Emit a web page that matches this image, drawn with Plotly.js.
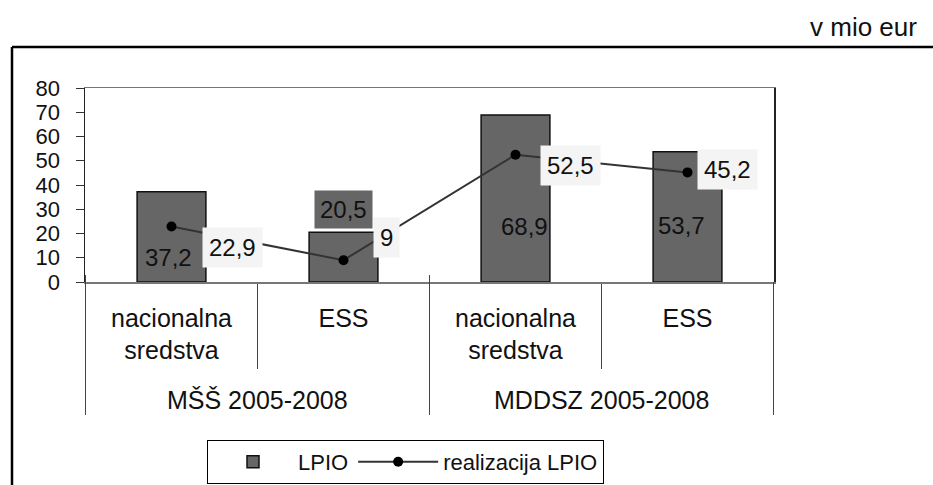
<!DOCTYPE html>
<html>
<head>
<meta charset="utf-8">
<script src="https://cdn.plot.ly/plotly-3.0.1.min.js"></script>
<style>html,body{margin:0;padding:0;background:#fff;}#chart{width:933px;height:485px;}</style>
</head>
<body>
<div id="chart"></div>
<script>
// ---- data ----
var groups = ["MŠŠ 2005-2008", "MŠŠ 2005-2008", "MDDSZ 2005-2008", "MDDSZ 2005-2008"];
var subcats = ["nacionalna<br>sredstva", "ESS", "nacionalna<br>sredstva", "ESS"];
var lpio = [37.2, 20.5, 68.9, 53.7];
var realizacija = [22.9, 9, 52.5, 45.2];
var lpioLabels = ["37,2", "20,5", "68,9", "53,7"];
var realLabels = ["22,9", "9", "52,5", "45,2"];
var yTicks = [0, 10, 20, 30, 40, 50, 60, 70, 80];
var unitLabel = "v mio eur";

// ---- label placement (styling only) ----
var barLabelStyle = [
  {base: true, dx: -3, dy: 25, bg: "rgba(0,0,0,0)"},
  {base: false, dx: 0, dy: 3, bg: "#666666"},
  {base: true, dx: 9, dy: 56, bg: "rgba(0,0,0,0)"},
  {base: true, dx: -6, dy: 57, bg: "rgba(0,0,0,0)"}
];
var lineLabelStyle = [
  {dx: 61, dy: -21}, {dx: 43, dy: 23}, {dx: 55, dy: -11}, {dx: 40, dy: 3}
];

var FONT = "Liberation Sans, Arial, sans-serif";
// unique category keys (group + sub-category), shown with the sub-category text
var xKeys = groups.map(function (g, i) { return g + " | " + subcats[i]; });

var traces = [
  {
    type: "bar", name: "LPIO", x: xKeys, y: lpio, width: 0.4,
    marker: {color: "#666666", line: {color: "#111111", width: 1.5}},
    hoverinfo: "none"
  },
  {
    type: "scatter", mode: "lines+markers", name: "realizacija LPIO", x: xKeys, y: realizacija,
    line: {color: "#333333", width: 2},
    marker: {color: "#000000", size: 10},
    hoverinfo: "none"
  }
];

var annotations = [];
for (var i = 0; i < lpio.length; i++) {
  var s = barLabelStyle[i];
  annotations.push({
    xref: "x", yref: "y", x: i, y: s.base ? 0 : lpio[i],
    text: lpioLabels[i], showarrow: false,
    xanchor: "center", yanchor: s.base ? "middle" : "bottom",
    xshift: s.dx, yshift: s.dy, bgcolor: s.bg, borderpad: 5,
    font: {family: FONT, size: 24, color: "#111"}
  });
  var l = lineLabelStyle[i];
  annotations.push({
    xref: "x", yref: "y", x: i, y: realizacija[i],
    text: realLabels[i], showarrow: false,
    xanchor: "center", yanchor: "middle",
    xshift: l.dx, yshift: l.dy, bgcolor: "#f4f4f4", borderpad: 6,
    font: {family: FONT, size: 24, color: "#111"}
  });
}

// group labels and group dividers (derived from the group array)
var PY = function (px) { return (282 - px) / 194; };
var shapes = [];
var start = 0;
for (var j = 1; j <= groups.length; j++) {
  if (j === groups.length || groups[j] !== groups[start]) {
    annotations.push({
      xref: "x", yref: "paper", x: (start + j - 1) / 2, y: PY(400),
      xanchor: "center", yanchor: "middle", text: groups[start], showarrow: false,
      font: {family: FONT, size: 25, color: "#111"}
    });
    shapes.push({type: "line", xref: "x", yref: "paper", x0: start - 0.5, x1: start - 0.5,
      y0: PY(275), y1: PY(415), line: {color: "#444", width: 1}});
    start = j;
  }
}
shapes.push({type: "line", xref: "x", yref: "paper", x0: groups.length - 0.5, x1: groups.length - 0.5,
  y0: PY(282), y1: PY(415), line: {color: "#444", width: 1}});

annotations.push({
  xref: "paper", yref: "paper", x: (919 - 85) / 689, y: PY(27),
  xanchor: "right", yanchor: "middle", text: unitLabel, showarrow: false,
  font: {family: FONT, size: 26, color: "#111"}
});

// outer frame
shapes.push({type: "line", xref: "paper", yref: "paper", x0: (12 - 85) / 689, x1: (12 - 85) / 689,
  y0: PY(47), y1: PY(500), line: {color: "#000", width: 2.5}});
shapes.push({type: "line", xref: "paper", yref: "paper", x0: (12 - 85) / 689, x1: (945 - 85) / 689,
  y0: PY(47), y1: PY(47), line: {color: "#000", width: 2.5}});

var layout = {
  width: 933, height: 485,
  margin: {l: 85, r: 159, t: 88, b: 203, autoexpand: false},
  paper_bgcolor: "#ffffff", plot_bgcolor: "#ffffff",
  showlegend: true,
  legend: {
    orientation: "h", x: (207 - 85) / 689, y: PY(440),
    xanchor: "left", yanchor: "top",
    bordercolor: "#000", borderwidth: 1, bgcolor: "#fff",
    font: {family: FONT, size: 22, color: "#111"},
    itemwidth: 80
  },
  xaxis: {
    type: "category",
    tickmode: "array", tickvals: xKeys, ticktext: subcats,
    showline: true, linecolor: "#777", linewidth: 1.5, mirror: true,
    ticks: "outside", tickson: "boundaries", ticklen: 85, tickcolor: "#444", tickwidth: 1,
    ticklabelstandoff: 13,
    tickfont: {family: FONT, size: 25, color: "#111"},
    showgrid: false, fixedrange: true
  },
  yaxis: {
    range: [0, 80], tickvals: yTicks, ticktext: yTicks.map(String),
    showline: true, linecolor: "#222", linewidth: 1.5, mirror: true,
    ticks: "outside", ticklen: 8, tickcolor: "#333",
    ticklabelstandoff: 11,
    tickfont: {family: FONT, size: 22, color: "#111"},
    showgrid: false, zeroline: false, fixedrange: true
  },
  annotations: annotations,
  shapes: shapes
};

Plotly.newPlot("chart", traces, layout, {displayModeBar: false, staticPlot: true});
</script>
</body>
</html>
